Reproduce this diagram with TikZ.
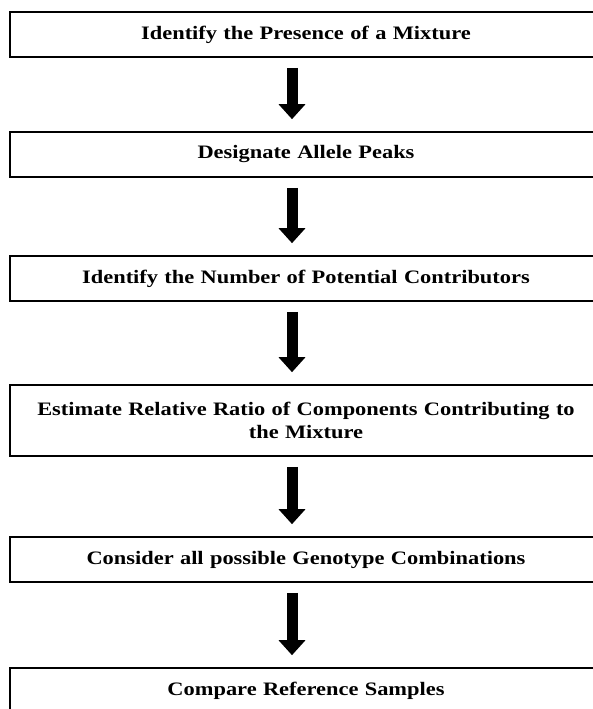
\documentclass[tikz,border=0pt]{standalone}
\usepackage{fontspec}
\setmainfont{Liberation Serif}[FakeStretch=1.18]
\usetikzlibrary{arrows.meta}

\begin{document}
\begin{tikzpicture}[x=1pt,y=1pt,
  stage/.style={draw,line width=1.6pt,rectangle,minimum width=592pt,minimum height=45pt,
    text width=585pt,align=center,inner sep=0pt,font=\fontsize{19}{23}\selectfont\bfseries},
  bigarrow/.style={line width=11pt,-{Triangle[width=26pt,length=15pt]}}]
\useasboundingbox (0,0) rectangle (592,-709);
\node[stage] (b1) at (306,-34.5) {Identify the Presence of a Mixture};
\node[stage] (b2) at (306,-154.5) {Designate Allele Peaks};
\node[stage] (b3) at (306,-278.5) {Identify the Number of Potential Contributors};
\node[stage,minimum height=71pt] (b4) at (306,-420.5) {Estimate Relative Ratio of Components Contributing to\\ the Mixture};
\node[stage] (b5) at (306,-559.5) {Consider all possible Genotype Combinations};
\node[stage] (b6) at (306,-690.5) {Compare Reference Samples};

\foreach \a/\b in {b1/b2,b2/b3,b3/b4,b4/b5,b5/b6}
  \draw[bigarrow] ([xshift=-14pt,yshift=-10pt]\a.south) -- ([xshift=-14pt,yshift=12pt]\b.north);
\end{tikzpicture}
\end{document}
